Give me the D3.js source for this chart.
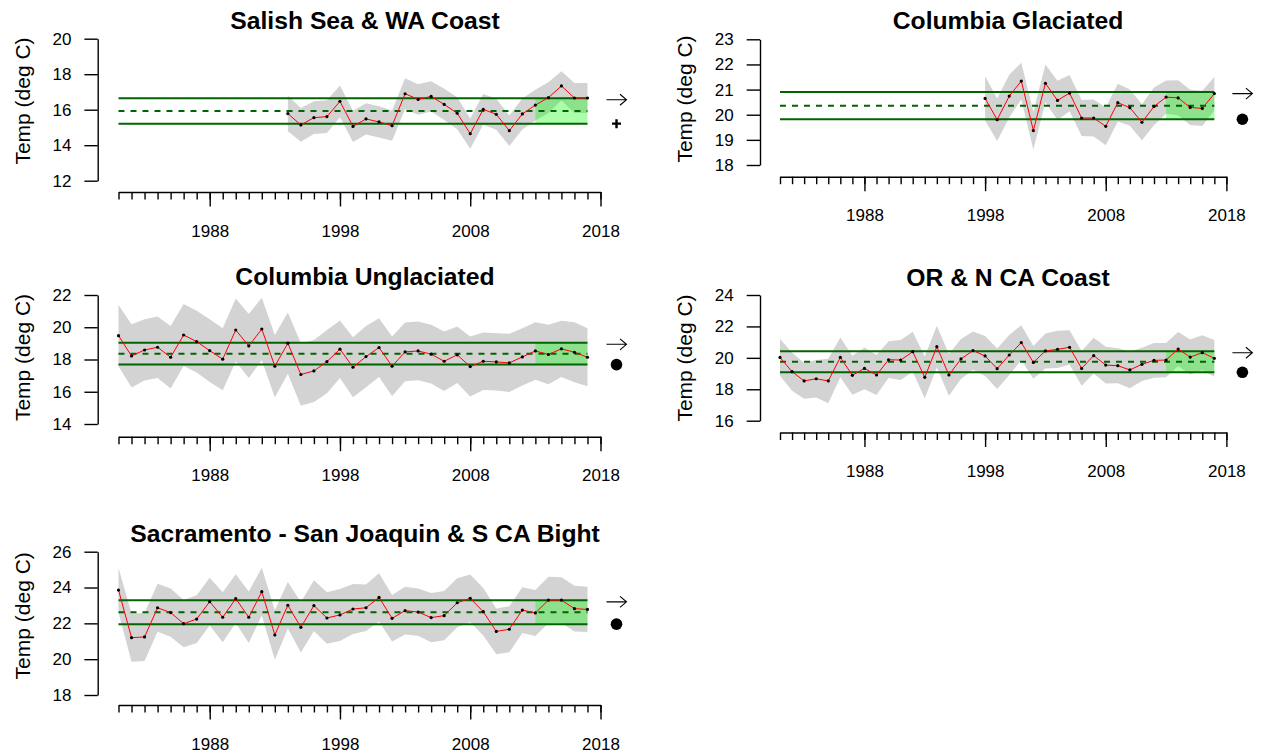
<!DOCTYPE html>
<html>
<head>
<meta charset="utf-8">
<script src="https://cdn.jsdelivr.net/npm/d3@7"></script>
<style>
  body { margin: 0; background: #fff; }
  svg { display: block; }
  text { font-family: "Liberation Sans", Arial, Helvetica, sans-serif; fill: #000; }
</style>
</head>
<body>
<svg id="chart" width="1265" height="754"></svg>
<script>
// ---- data -------------------------------------------------------------
const regionTitles = [
  "Salish Sea & WA Coast",
  "Columbia Glaciated",
  "Columbia Unglaciated",
  "OR & N CA Coast",
  "Sacramento - San Joaquin & S CA Bight"
];

const salishYears = d3.range(1994, 2018);
const salishTemp = [15.78, 15.14, 15.55, 15.61, 16.47, 15.06, 15.48, 15.31, 15.10, 16.90,
  16.58, 16.75, 16.30, 15.80, 14.65, 16.02, 15.74, 14.82, 15.76, 16.26,
  16.68, 17.34, 16.66, 16.66];
const salishErr = [1.00, 0.95, 0.92, 0.92, 0.90, 0.88, 0.88, 0.88, 0.85, 0.87,
  0.86, 0.85, 0.88, 0.90, 0.85, 0.87, 0.87, 0.86, 0.87, 0.87,
  0.86, 0.82, 0.84, 0.84];

const glaciatedYears = d3.range(1998, 2018);
const glaciatedTemp = [20.65, 19.80, 20.74, 21.34, 19.37, 21.25, 20.57, 20.86, 19.87, 19.87,
  19.54, 20.48, 20.28, 19.70, 20.33, 20.70, 20.67, 20.29, 20.25, 20.84];
const glaciatedErr = [0.88, 0.85, 0.85, 0.73, 0.75, 0.75, 0.78, 0.72, 0.72, 0.74,
  0.75, 0.75, 0.72, 0.72, 0.75, 0.66, 0.70, 0.70, 0.70, 0.66];

const unglaciatedYears = d3.range(1981, 2018);
const unglaciatedTemp = [19.48, 18.22, 18.59, 18.76, 18.14, 19.52, 19.11, 18.55, 18.02, 19.83,
  18.84, 19.89, 17.58, 19.01, 17.07, 17.29, 17.87, 18.64, 17.52, 18.18,
  18.74, 17.58, 18.47, 18.53, 18.33, 17.89, 18.29, 17.56, 17.89, 17.85,
  17.79, 18.16, 18.53, 18.31, 18.66, 18.45, 18.14];
const unglaciatedErr = [1.90, 1.96, 1.90, 1.90, 1.94, 1.92, 1.92, 1.94, 1.92, 1.96,
  1.98, 1.94, 1.94, 1.90, 1.94, 1.92, 1.96, 1.78, 1.86, 1.90,
  1.82, 1.84, 1.82, 1.82, 1.82, 1.84, 1.75, 1.86, 1.78, 1.78,
  1.80, 1.78, 1.78, 1.84, 1.75, 1.86, 1.80];

const orCoastYears = d3.range(1981, 2018);
const orCoastTemp = [20.03, 19.12, 18.53, 18.67, 18.53, 20.03, 18.89, 19.33, 18.91, 19.88,
  19.86, 20.39, 18.76, 20.71, 18.91, 19.93, 20.46, 20.12, 19.31, 20.18,
  20.97, 19.71, 20.44, 20.54, 20.67, 19.33, 20.14, 19.54, 19.50, 19.23,
  19.59, 19.84, 19.86, 20.56, 20.05, 20.33, 19.97];
const orCoastErr = [1.17, 1.22, 1.14, 1.19, 1.42, 1.27, 1.24, 1.33, 1.27, 1.17,
  1.27, 1.27, 1.33, 1.33, 1.33, 1.27, 1.22, 1.27, 1.29, 1.27,
  1.11, 1.04, 1.11, 1.19, 1.09, 1.11, 1.14, 1.17, 1.11, 1.17,
  1.06, 1.11, 1.09, 1.08, 1.11, 1.11, 1.17];

const sacYears = d3.range(1981, 2018);
const sacTemp = [23.86, 21.20, 21.24, 22.87, 22.60, 21.98, 22.24, 23.21, 22.34, 23.38,
  22.34, 23.77, 21.35, 23.01, 21.78, 22.99, 22.30, 22.47, 22.80, 22.87,
  23.45, 22.28, 22.71, 22.63, 22.32, 22.43, 23.15, 23.40, 22.65, 21.55,
  21.67, 22.74, 22.58, 23.30, 23.30, 22.82, 22.78];
const sacErr = [1.25, 1.35, 1.34, 1.34, 1.35, 1.32, 1.33, 1.33, 1.40, 1.36,
  1.44, 1.33, 1.38, 1.30, 1.41, 1.42, 1.44, 1.45, 1.40, 1.30,
  1.35, 1.30, 1.33, 1.32, 1.37, 1.37, 1.37, 1.33, 1.33, 1.28,
  1.28, 1.28, 1.28, 1.30, 1.28, 1.28, 1.26];

// long-term mean and standard deviation of each series
const regionMeans = [15.93, 20.36, 18.36, 19.75, 22.62];
const regionSD = [0.715, 0.54, 0.675, 0.67, 0.665];

// recent-mean status marker shown beside the trend arrow
const statusSymbol = ["plus", "dot", "dot", "dot", "dot"];

const yTickValues = [
  [12, 14, 16, 18, 20],
  [18, 19, 20, 21, 22, 23],
  [14, 16, 18, 20, 22],
  [16, 18, 20, 22, 24],
  [18, 20, 22, 24, 26]
];

const firstYear = 1981, lastYear = 2018, lastDataYear = 2017, recentStart = 2013;
const labelYears = [1988, 1998, 2008, 2018];
const allYears = d3.range(firstYear, lastYear + 1);

// ---- layout -----------------------------------------------------------
const cols = {
  L: { axisX: 97.7, x0: 118.5, x1: 600.5, titleX: 365 },
  R: { axisX: 760, x0: 780, x1: 1226.4, titleX: 1008 }
};
const panels = [
  { col: "L", years: salishYears, temp: salishTemp, err: salishErr, yr: [180.7, 38.7], axisY: 192, titleY: 28.7, labY: 101 },
  { col: "R", years: glaciatedYears, temp: glaciatedTemp, err: glaciatedErr, yr: [165, 39.3], axisY: 176.7, titleY: 28.7, labY: 99 },
  { col: "L", years: unglaciatedYears, temp: unglaciatedTemp, err: unglaciatedErr, yr: [424, 295], axisY: 436.7, titleY: 285, labY: 357.5 },
  { col: "R", years: orCoastYears, temp: orCoastTemp, err: orCoastErr, yr: [420.7, 295], axisY: 432.5, titleY: 285.7, labY: 358 },
  { col: "L", years: sacYears, temp: sacTemp, err: sacErr, yr: [695, 551.7], axisY: 705, titleY: 541.7, labY: 615.8 }
];

const svg = d3.select("#chart");

panels.forEach((p, i) => {
  const c = cols[p.col];
  const ticks = yTickValues[i];
  const x = d3.scaleLinear().domain([firstYear, lastYear]).range([c.x0, c.x1]);
  const y = d3.scaleLinear().domain([ticks[0], ticks[ticks.length - 1]]).range(p.yr);
  const g = svg.append("g");
  const rows = p.years.map((yr, k) => ({ year: yr, t: p.temp[k], e: p.err[k] }));
  const mean = regionMeans[i], sd = regionSD[i];

  // uncertainty band
  g.append("path")
    .attr("d", d3.area().x(d => x(d.year)).y0(d => y(d.t - d.e)).y1(d => y(d.t + d.e))(rows))
    .attr("fill", "#d3d3d3");

  // recent window shading within +/- 1 sd
  g.append("rect")
    .attr("x", x(recentStart)).attr("width", x(lastDataYear) - x(recentStart))
    .attr("y", y(mean + sd)).attr("height", y(mean - sd) - y(mean + sd))
    .attr("fill", "rgb(0,255,0)").attr("fill-opacity", 0.33);

  // mean and +/- 1 sd reference lines
  [mean + sd, mean - sd].forEach(v => {
    g.append("line")
      .attr("x1", x(firstYear)).attr("x2", x(lastDataYear))
      .attr("y1", y(v)).attr("y2", y(v))
      .attr("stroke", "#006400").attr("stroke-width", 2);
  });
  g.append("line")
    .attr("x1", x(firstYear)).attr("x2", x(lastDataYear))
    .attr("y1", y(mean)).attr("y2", y(mean))
    .attr("stroke", "#006400").attr("stroke-width", 2)
    .attr("stroke-dasharray", "6,6");

  // series line and points
  g.append("path")
    .attr("d", d3.line().x(d => x(d.year)).y(d => y(d.t))(rows))
    .attr("fill", "none").attr("stroke", "#ff0000").attr("stroke-width", 1);
  g.selectAll("circle.pt").data(rows).join("circle")
    .attr("class", "pt")
    .attr("cx", d => x(d.year)).attr("cy", d => y(d.t)).attr("r", 1.6)
    .attr("fill", "#000");

  // y axis
  const ya = g.append("g").attr("transform", `translate(${c.axisX},0)`)
    .call(d3.axisLeft(y).tickValues(ticks).tickSize(13.3).tickSizeOuter(0)
      .tickPadding(13).tickFormat(d3.format("d")));
  ya.select(".domain").attr("stroke", "#000").attr("stroke-width", 1.4);
  ya.selectAll(".tick line").attr("stroke", "#000").attr("stroke-width", 1.4);
  ya.selectAll(".tick text").attr("font-size", 17).attr("font-family", null);

  // x axis: yearly minor ticks and labelled decade ticks
  const xa = g.append("g").attr("transform", `translate(0,${p.axisY})`)
    .call(d3.axisBottom(x).tickValues(allYears).tickSize(7.5).tickSizeOuter(0).tickFormat(""));
  xa.select(".domain").attr("stroke", "#000").attr("stroke-width", 1.4);
  xa.selectAll(".tick line").attr("stroke", "#000").attr("stroke-width", 1.4);
  const xb = g.append("g").attr("transform", `translate(0,${p.axisY})`)
    .call(d3.axisBottom(x).tickValues(labelYears).tickSize(14.5).tickSizeOuter(0)
      .tickPadding(18).tickFormat(d3.format("d")));
  xb.select(".domain").remove();
  xb.selectAll(".tick line").attr("stroke", "#000").attr("stroke-width", 1.4);
  xb.selectAll(".tick text").attr("font-size", 17).attr("font-family", null);

  // title and axis label
  g.append("text")
    .attr("x", c.titleX).attr("y", p.titleY)
    .attr("text-anchor", "middle").attr("font-size", 24.7).attr("font-weight", "bold")
    .text(regionTitles[i]);
  g.append("text")
    .attr("transform", `translate(${c.axisX - 67.7},${p.labY}) rotate(-90)`)
    .attr("text-anchor", "middle").attr("font-size", 21)
    .text("Temp (deg C)");

  // trend arrow and status marker to the right of the series
  const sx = x(lastYear) + 16;
  const ay = y(mean + sd) + 1.5;
  g.append("path")
    .attr("d", `M${sx - 10},${ay}H${sx + 10}M${sx + 3.5},${ay - 5.5}L${sx + 10},${ay}L${sx + 3.5},${ay + 5.5}`)
    .attr("fill", "none").attr("stroke", "#000").attr("stroke-width", 1.1);
  const sy = y(mean - sd);
  if (statusSymbol[i] === "plus") {
    g.append("path")
      .attr("d", `M${sx - 4.5},${sy}H${sx + 4.5}M${sx},${sy - 4.5}V${sy + 4.5}`)
      .attr("stroke", "#000").attr("stroke-width", 2.4);
  } else {
    g.append("circle").attr("cx", sx).attr("cy", sy).attr("r", 5.8).attr("fill", "#000");
  }
});
</script>
</body>
</html>
